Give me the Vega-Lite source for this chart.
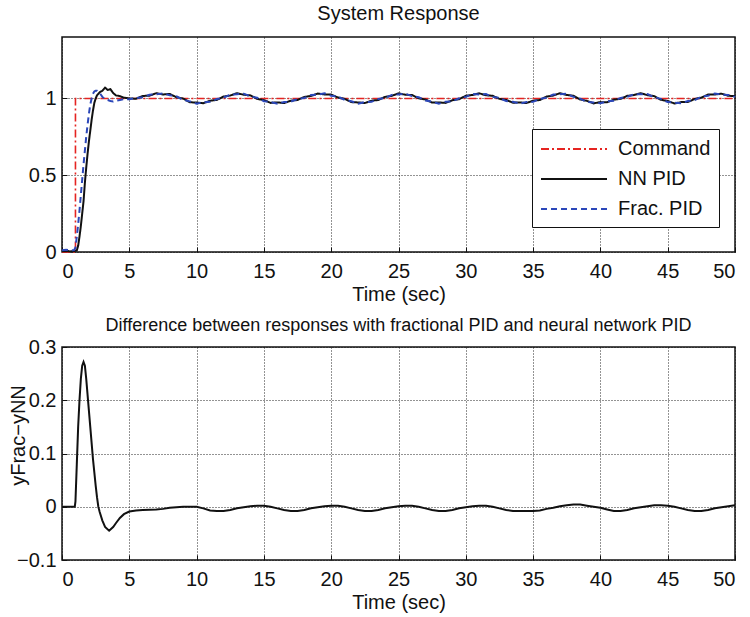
{
  "$schema": "https://vega.github.io/schema/vega-lite/v6.json",
  "padding": {"left": 7, "top": 3, "right": 0, "bottom": 0},
  "bounds": "flush",
  "spacing": 95,
  "config": {
    "font": "Liberation Sans",
    "view": {"stroke": "#111111", "strokeWidth": 1.5},
    "axis": {
      "labelFont": "Liberation Sans", "labelFontSize": 20, "labelColor": "#111111",
      "titleFont": "Liberation Sans", "titleFontSize": 20, "titleFontWeight": "normal", "titleColor": "#111111",
      "grid": true, "gridColor": "#111111", "gridDash": [1, 2], "gridOpacity": 0.9, "gridWidth": 1,
      "ticks": true, "tickSize": -5, "tickColor": "#111111", "tickWidth": 1,
      "domain": false, "labelPadding": 14, "titlePadding": 3
    },
    "axisY": {"labelPadding": 11},
    "title": {"font": "Liberation Sans", "fontSize": 20, "fontWeight": "normal", "color": "#111111", "baseline": "alphabetic", "frame": "group"},
    "legend": {
      "orient": "none", "legendX": 470, "legendY": 92, "title": null,
      "labelFont": "Liberation Sans", "labelFontSize": 20, "labelColor": "#111111",
      "symbolType": "M-1,0H5", "symbolSize": 484, "symbolStrokeWidth": 2,
      "labelOffset": 54, "rowPadding": 8, "padding": 8,
      "fillColor": "white", "strokeColor": "#111111"
    }
  },
  "datasets": {
    "cmd": [
      {"t": 0, "v": 0}, {"t": 1.0, "v": 0}, {"t": 1.0, "v": 1}, {"t": 50, "v": 1}
    ],
    "resp": [
      {"t": 0, "nn": 0.005, "frac": 0.012},
      {"t": 0.3, "nn": 0.008, "frac": 0.015},
      {"t": 0.6, "nn": 0.004, "frac": 0.010},
      {"t": 0.9, "nn": 0.006, "frac": 0.012},
      {"t": 1.0, "nn": 0.008, "frac": 0.03},
      {"t": 1.1, "nn": 0.01, "frac": 0.10},
      {"t": 1.2, "nn": 0.04, "frac": 0.18},
      {"t": 1.3, "nn": 0.10, "frac": 0.27},
      {"t": 1.4, "nn": 0.17, "frac": 0.37},
      {"t": 1.5, "nn": 0.25, "frac": 0.47},
      {"t": 1.6, "nn": 0.33, "frac": 0.57},
      {"t": 1.7, "nn": 0.45, "frac": 0.66},
      {"t": 1.8, "nn": 0.55, "frac": 0.75},
      {"t": 1.9, "nn": 0.64, "frac": 0.83},
      {"t": 2.0, "nn": 0.72, "frac": 0.90},
      {"t": 2.1, "nn": 0.79, "frac": 0.96},
      {"t": 2.2, "nn": 0.86, "frac": 1.00},
      {"t": 2.3, "nn": 0.92, "frac": 1.03},
      {"t": 2.4, "nn": 0.97, "frac": 1.045},
      {"t": 2.5, "nn": 1.00, "frac": 1.05},
      {"t": 2.6, "nn": 1.02, "frac": 1.05},
      {"t": 2.8, "nn": 1.04, "frac": 1.035},
      {"t": 3.0, "nn": 1.05, "frac": 1.01},
      {"t": 3.2, "nn": 1.07, "frac": 0.995},
      {"t": 3.4, "nn": 1.055, "frac": 0.99},
      {"t": 3.6, "nn": 1.06, "frac": 0.983},
      {"t": 3.8, "nn": 1.035, "frac": 0.98},
      {"t": 4.0, "nn": 1.02, "frac": 0.985},
      {"t": 4.3, "nn": 1.015, "frac": 0.99},
      {"t": 4.6, "nn": 1.005, "frac": 0.995},
      {"t": 5.0, "nn": 1.0, "frac": 0.995},
      {"t": 5.5, "nn": 0.998, "frac": 1.002},
      {"t": 6.0, "nn": 1.016, "frac": 1.008},
      {"t": 6.5, "nn": 1.018, "frac": 1.024},
      {"t": 7.0, "nn": 1.034, "frac": 1.027},
      {"t": 7.5, "nn": 1.026, "frac": 1.033},
      {"t": 8.0, "nn": 1.029, "frac": 1.021},
      {"t": 8.5, "nn": 1.008, "frac": 1.014},
      {"t": 9.0, "nn": 0.999, "frac": 0.990},
      {"t": 9.5, "nn": 0.975, "frac": 0.981},
      {"t": 10.0, "nn": 0.973, "frac": 0.966},
      {"t": 10.5, "nn": 0.969, "frac": 0.975},
      {"t": 11.0, "nn": 0.985, "frac": 0.978},
      {"t": 11.5, "nn": 0.990, "frac": 0.996},
      {"t": 12.0, "nn": 1.012, "frac": 1.005},
      {"t": 12.5, "nn": 1.019, "frac": 1.025},
      {"t": 13.0, "nn": 1.034, "frac": 1.028},
      {"t": 13.5, "nn": 1.024, "frac": 1.031},
      {"t": 14.0, "nn": 1.020, "frac": 1.013},
      {"t": 14.5, "nn": 0.997, "frac": 1.004},
      {"t": 15.0, "nn": 0.989, "frac": 0.982},
      {"t": 15.5, "nn": 0.971, "frac": 0.977},
      {"t": 16.0, "nn": 0.974, "frac": 0.966},
      {"t": 16.5, "nn": 0.970, "frac": 0.976},
      {"t": 17.0, "nn": 0.985, "frac": 0.979},
      {"t": 17.5, "nn": 0.990, "frac": 0.997},
      {"t": 18.0, "nn": 1.010, "frac": 1.003},
      {"t": 18.5, "nn": 1.016, "frac": 1.022},
      {"t": 19.0, "nn": 1.032, "frac": 1.025},
      {"t": 19.5, "nn": 1.026, "frac": 1.033},
      {"t": 20.0, "nn": 1.025, "frac": 1.018},
      {"t": 20.5, "nn": 1.006, "frac": 1.012},
      {"t": 21.0, "nn": 0.997, "frac": 0.990},
      {"t": 21.5, "nn": 0.976, "frac": 0.982},
      {"t": 22.0, "nn": 0.974, "frac": 0.966},
      {"t": 22.5, "nn": 0.970, "frac": 0.977},
      {"t": 23.0, "nn": 0.985, "frac": 0.978},
      {"t": 23.5, "nn": 0.990, "frac": 0.996},
      {"t": 24.0, "nn": 1.010, "frac": 1.003},
      {"t": 24.5, "nn": 1.017, "frac": 1.023},
      {"t": 25.0, "nn": 1.033, "frac": 1.026},
      {"t": 25.5, "nn": 1.024, "frac": 1.031},
      {"t": 26.0, "nn": 1.022, "frac": 1.015},
      {"t": 26.5, "nn": 1.001, "frac": 1.008},
      {"t": 27.0, "nn": 0.993, "frac": 0.986},
      {"t": 27.5, "nn": 0.973, "frac": 0.979},
      {"t": 28.0, "nn": 0.974, "frac": 0.966},
      {"t": 28.5, "nn": 0.971, "frac": 0.978},
      {"t": 29.0, "nn": 0.988, "frac": 0.981},
      {"t": 29.5, "nn": 0.995, "frac": 1.001},
      {"t": 30.0, "nn": 1.017, "frac": 1.010},
      {"t": 30.5, "nn": 1.023, "frac": 1.029},
      {"t": 31.0, "nn": 1.033, "frac": 1.026},
      {"t": 31.5, "nn": 1.021, "frac": 1.028},
      {"t": 32.0, "nn": 1.017, "frac": 1.010},
      {"t": 32.5, "nn": 0.997, "frac": 1.003},
      {"t": 33.0, "nn": 0.990, "frac": 0.983},
      {"t": 33.5, "nn": 0.972, "frac": 0.978},
      {"t": 34.0, "nn": 0.974, "frac": 0.966},
      {"t": 34.5, "nn": 0.970, "frac": 0.976},
      {"t": 35.0, "nn": 0.985, "frac": 0.978},
      {"t": 35.5, "nn": 0.990, "frac": 0.996},
      {"t": 36.0, "nn": 1.012, "frac": 1.005},
      {"t": 36.5, "nn": 1.019, "frac": 1.025},
      {"t": 37.0, "nn": 1.034, "frac": 1.028},
      {"t": 37.5, "nn": 1.023, "frac": 1.030},
      {"t": 38.0, "nn": 1.017, "frac": 1.010},
      {"t": 38.5, "nn": 0.993, "frac": 0.999},
      {"t": 39.0, "nn": 0.984, "frac": 0.977},
      {"t": 39.5, "nn": 0.968, "frac": 0.974},
      {"t": 40.0, "nn": 0.976, "frac": 0.969},
      {"t": 40.5, "nn": 0.975, "frac": 0.981},
      {"t": 41.0, "nn": 0.992, "frac": 0.985},
      {"t": 41.5, "nn": 0.997, "frac": 1.003},
      {"t": 42.0, "nn": 1.017, "frac": 1.010},
      {"t": 42.5, "nn": 1.022, "frac": 1.028},
      {"t": 43.0, "nn": 1.034, "frac": 1.027},
      {"t": 43.5, "nn": 1.021, "frac": 1.028},
      {"t": 44.0, "nn": 1.015, "frac": 1.008},
      {"t": 44.5, "nn": 0.991, "frac": 0.997},
      {"t": 45.0, "nn": 0.983, "frac": 0.976},
      {"t": 45.5, "nn": 0.967, "frac": 0.973},
      {"t": 46.0, "nn": 0.976, "frac": 0.969},
      {"t": 46.5, "nn": 0.977, "frac": 0.983},
      {"t": 47.0, "nn": 0.996, "frac": 0.989},
      {"t": 47.5, "nn": 1.005, "frac": 1.011},
      {"t": 48.0, "nn": 1.025, "frac": 1.018},
      {"t": 48.5, "nn": 1.026, "frac": 1.032},
      {"t": 49.0, "nn": 1.031, "frac": 1.024},
      {"t": 49.5, "nn": 1.017, "frac": 1.023},
      {"t": 50.0, "nn": 1.016, "frac": 1.010}
    ],
    "diff": [
      {"t": 0, "d": 0}, {"t": 0.5, "d": 0}, {"t": 0.95, "d": 0}, {"t": 1.0, "d": 0.01},
      {"t": 1.1, "d": 0.08}, {"t": 1.2, "d": 0.15}, {"t": 1.3, "d": 0.20}, {"t": 1.4, "d": 0.24},
      {"t": 1.5, "d": 0.265}, {"t": 1.6, "d": 0.272}, {"t": 1.7, "d": 0.265}, {"t": 1.8, "d": 0.24},
      {"t": 1.9, "d": 0.21}, {"t": 2.0, "d": 0.18}, {"t": 2.1, "d": 0.15}, {"t": 2.2, "d": 0.12},
      {"t": 2.3, "d": 0.09}, {"t": 2.4, "d": 0.065}, {"t": 2.5, "d": 0.04}, {"t": 2.6, "d": 0.018},
      {"t": 2.7, "d": 0.0}, {"t": 2.8, "d": -0.01}, {"t": 3.0, "d": -0.026}, {"t": 3.2, "d": -0.038},
      {"t": 3.5, "d": -0.045}, {"t": 3.8, "d": -0.038}, {"t": 4.0, "d": -0.031}, {"t": 4.3, "d": -0.021},
      {"t": 4.6, "d": -0.014}, {"t": 5.0, "d": -0.009}, {"t": 5.5, "d": -0.007}, {"t": 6, "d": -0.006},
      {"t": 7, "d": -0.005}, {"t": 7.5, "d": -0.004}, {"t": 8, "d": -0.002}, {"t": 9, "d": 0.0},
      {"t": 10, "d": 0.0}, {"t": 10.5, "d": -0.003}, {"t": 11, "d": -0.007}, {"t": 11.5, "d": -0.008},
      {"t": 12, "d": -0.008}, {"t": 12.5, "d": -0.006}, {"t": 13, "d": -0.003}, {"t": 13.5, "d": -0.001},
      {"t": 14, "d": 0.001}, {"t": 14.5, "d": 0.002}, {"t": 15, "d": 0.002}, {"t": 15.5, "d": 0.0},
      {"t": 16, "d": -0.003}, {"t": 16.5, "d": -0.006}, {"t": 17, "d": -0.008}, {"t": 17.5, "d": -0.008},
      {"t": 18, "d": -0.006}, {"t": 18.5, "d": -0.003}, {"t": 19, "d": -0.001}, {"t": 19.5, "d": 0.001},
      {"t": 20, "d": 0.002}, {"t": 20.5, "d": 0.002}, {"t": 21, "d": 0.0}, {"t": 21.5, "d": -0.003},
      {"t": 22, "d": -0.006}, {"t": 22.5, "d": -0.008}, {"t": 23, "d": -0.008}, {"t": 23.5, "d": -0.006},
      {"t": 24, "d": -0.003}, {"t": 24.5, "d": -0.001}, {"t": 25, "d": 0.001}, {"t": 25.5, "d": 0.002},
      {"t": 26, "d": 0.002}, {"t": 26.5, "d": 0.0}, {"t": 27, "d": -0.003}, {"t": 27.5, "d": -0.006},
      {"t": 28, "d": -0.008}, {"t": 28.5, "d": -0.008}, {"t": 29, "d": -0.006}, {"t": 29.5, "d": -0.003},
      {"t": 30, "d": -0.001}, {"t": 30.5, "d": 0.001}, {"t": 31, "d": 0.002}, {"t": 31.5, "d": 0.002},
      {"t": 32, "d": 0.0}, {"t": 32.5, "d": -0.003}, {"t": 33, "d": -0.006}, {"t": 33.5, "d": -0.008},
      {"t": 34, "d": -0.008}, {"t": 34.5, "d": -0.008}, {"t": 35, "d": -0.008}, {"t": 35.5, "d": -0.007},
      {"t": 36, "d": -0.004}, {"t": 36.5, "d": -0.002}, {"t": 37, "d": 0.001}, {"t": 37.5, "d": 0.003},
      {"t": 38, "d": 0.004}, {"t": 38.5, "d": 0.004}, {"t": 39, "d": 0.002}, {"t": 39.5, "d": 0.0},
      {"t": 40, "d": -0.002}, {"t": 40.5, "d": -0.005}, {"t": 41, "d": -0.008}, {"t": 41.5, "d": -0.008},
      {"t": 42, "d": -0.006}, {"t": 42.5, "d": -0.003}, {"t": 43, "d": -0.001}, {"t": 43.5, "d": 0.001},
      {"t": 44, "d": 0.003}, {"t": 44.5, "d": 0.003}, {"t": 45, "d": 0.002}, {"t": 45.5, "d": 0.0},
      {"t": 46, "d": -0.003}, {"t": 46.5, "d": -0.006}, {"t": 47, "d": -0.008}, {"t": 47.5, "d": -0.008},
      {"t": 48, "d": -0.006}, {"t": 48.5, "d": -0.003}, {"t": 49, "d": -0.001}, {"t": 49.5, "d": 0.001},
      {"t": 50, "d": 0.003}
    ]
  },
  "vconcat": [
    {
      "title": {"text": "System Response", "offset": 13},
      "width": 673,
      "height": 215,
      "encoding": {
        "x": {"field": "t", "type": "quantitative", "scale": {"domain": [0, 50], "nice": false},
              "axis": {"values": [0, 5, 10, 15, 20, 25, 30, 35, 40, 45, 50], "title": "Time (sec)"}}
      },
      "layer": [
        {
          "data": {"name": "cmd"},
          "mark": {"type": "line", "strokeWidth": 1.6},
          "encoding": {
            "y": {"field": "v", "type": "quantitative", "scale": {"domain": [0, 1.4], "nice": false},
                  "axis": {"values": [0, 0.5, 1], "format": "~g", "title": null}},
            "color": {"datum": "Command", "type": "nominal",
                      "scale": {"domain": ["Command", "NN PID", "Frac. PID"], "range": ["#e52421", "#111111", "#2b47b9"]}},
            "strokeDash": {"datum": "Command", "type": "nominal",
                      "scale": {"domain": ["Command", "NN PID", "Frac. PID"], "range": [[8, 3, 2, 3], [1, 0], [6, 4]]}}
          }
        },
        {
          "data": {"name": "resp"},
          "mark": {"type": "line", "strokeWidth": 2},
          "encoding": {
            "y": {"field": "nn", "type": "quantitative"},
            "color": {"datum": "NN PID", "type": "nominal"},
            "strokeDash": {"datum": "NN PID", "type": "nominal"}
          }
        },
        {
          "data": {"name": "resp"},
          "mark": {"type": "line", "strokeWidth": 2},
          "encoding": {
            "y": {"field": "frac", "type": "quantitative"},
            "color": {"datum": "Frac. PID", "type": "nominal"},
            "strokeDash": {"datum": "Frac. PID", "type": "nominal"}
          }
        }
      ]
    },
    {
      "title": {"text": "Difference between responses with fractional PID and neural network PID", "fontSize": 18, "offset": 2},
      "width": 673,
      "height": 213,
      "data": {"name": "diff"},
      "mark": {"type": "line", "color": "#111111", "strokeWidth": 2},
      "encoding": {
        "x": {"field": "t", "type": "quantitative", "scale": {"domain": [0, 50], "nice": false},
              "axis": {"values": [0, 5, 10, 15, 20, 25, 30, 35, 40, 45, 50], "title": "Time (sec)"}},
        "y": {"field": "d", "type": "quantitative", "scale": {"domain": [-0.1, 0.3], "nice": false},
              "axis": {"values": [-0.1, 0, 0.1, 0.2, 0.3], "format": "~g", "title": "yFrac−yNN",
                       "titleX": -44, "titleY": 88, "titleAngle": -90, "titleAlign": "center", "titleBaseline": "middle"}}
      }
    }
  ]
}
